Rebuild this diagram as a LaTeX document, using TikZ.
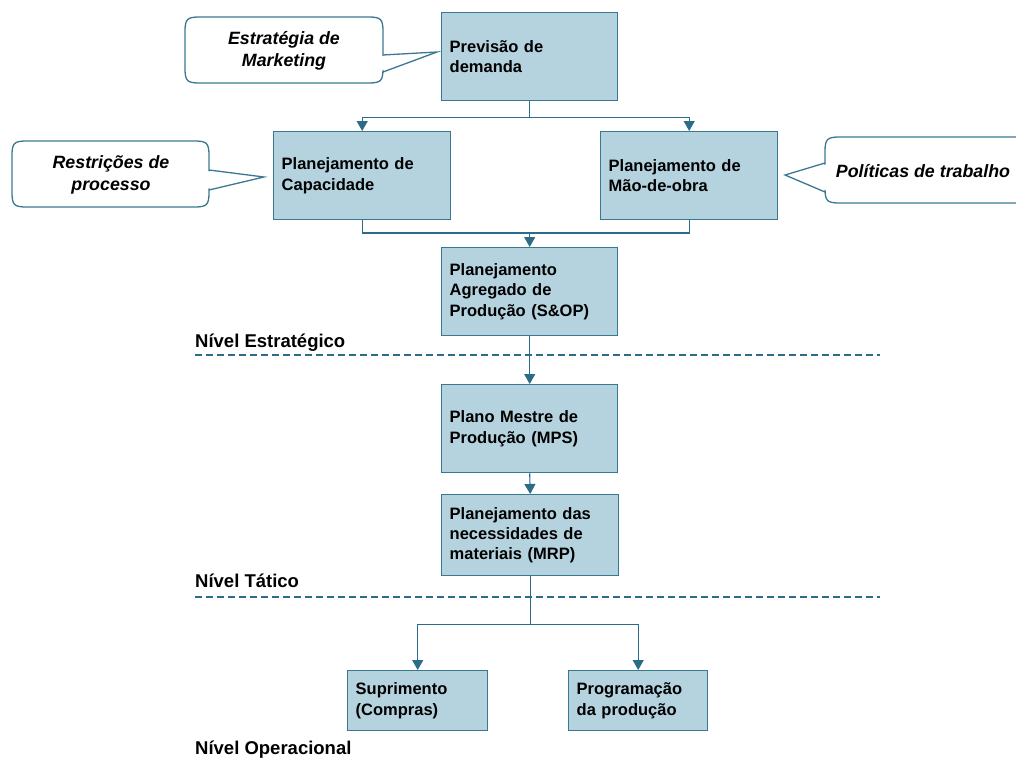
\documentclass[tikz,border=0pt]{standalone}
\usepackage{fontspec}
\setmainfont{Liberation Sans}
\usetikzlibrary{arrows.meta,calc}

\definecolor{boxfill}{HTML}{B4D3DE}
\definecolor{boxline}{HTML}{3A7892}
\definecolor{linkcol}{HTML}{2C6C87}

\tikzset{
  stepbox/.style={draw=boxline, line width=1.4pt, fill=boxfill, inner xsep=8pt, inner ysep=0pt,
    align=left, font=\bfseries\fontsize{16.5}{20.3}\selectfont, anchor=north west},
  link/.style={draw=linkcol, line width=1.1pt},
  arrowlink/.style={link, -{Triangle[width=11pt,length=10pt]}},
  levelline/.style={draw=linkcol, line width=1.8pt, dash pattern=on 7pt off 4pt},
  leveltext/.style={font=\bfseries\fontsize{18.5}{22}\selectfont, anchor=base west, inner sep=0pt},
  callout/.style={draw=boxline, line width=1.3pt, fill=white},
  callouttext/.style={font=\bfseries\itshape\fontsize{17.8}{22}\selectfont, align=center, inner sep=0pt}
}

% rounded speech box: left, top, right, bottom, corner radius
\newcommand\speechbox[5]{%
  \path[callout] (#1,#2+#5) .. controls (#1,#2+2) and (#1+2,#2) .. (#1+#5,#2)
    -- (#3-#5,#2) .. controls (#3-2,#2) and (#3,#2+2) .. (#3,#2+#5)
    -- (#3,#4-#5) .. controls (#3,#4-2) and (#3-2,#4) .. (#3-#5,#4)
    -- (#1+#5,#4) .. controls (#1+2,#4) and (#1,#4-2) .. (#1,#4-#5) -- cycle;}

\begin{document}
\begin{tikzpicture}[x=1pt,y=-1pt]
\useasboundingbox (0,0) rectangle (1016,760);

% ---- boxes ----
\node[stepbox, text width=160pt, minimum height=88pt] (prev) at (441,12) {Previsão de\\demanda};
\node[stepbox, text width=161pt, minimum height=88pt] (cap) at (273,131) {Planejamento de\\Capacidade};
\node[stepbox, text width=161pt, minimum height=88pt] (mao) at (600,131) {Planejamento de\\Mão-de-obra};
\node[stepbox, text width=160pt, minimum height=88pt] (sop) at (441,247) {Planejamento\\Agregado de\\Produção (S\&OP)};
\node[stepbox, text width=160pt, minimum height=88pt] (mps) at (441,384) {Plano Mestre de\\Produção (MPS)};
\node[stepbox, text width=161pt, minimum height=81pt] (mrp) at (441,494) {Planejamento das\\necessidades de\\materiais (MRP)};
\node[stepbox, text width=124pt, minimum height=60pt] (sup) at (347,670) {Suprimento\\(Compras)};
\node[stepbox, text width=123pt, minimum height=60pt] (prog) at (568,670) {Programação\\da produção};

% ---- connectors ----
\coordinate (j1) at ($(prev.south)+(0,16)$);
\draw[link] (prev.south) -- (j1);
\draw[arrowlink] (j1) -| (cap.north);
\draw[arrowlink] (j1) -| (mao.north);

\coordinate (j2) at ($(sop.north)+(0,-14)$);
\draw[link] (cap.south) |- (j2) -| (mao.south);
\draw[arrowlink] (j2) -- (sop.north);

\draw[arrowlink] (sop.south) -- (mps.north);
\draw[arrowlink] (mps.south) -- (mrp.north);

\coordinate (j3) at ($(mrp.south)+(0,48)$);
\draw[link] (mrp.south) -- (j3);
\draw[arrowlink] (j3) -| (sup.north);
\draw[arrowlink] (j3) -| (prog.north);

% ---- planning levels ----
\coordinate (l1a) at (195,355); \coordinate (l1b) at (880,355);
\coordinate (l2a) at (195,597); \coordinate (l2b) at (880,597);
\draw[levelline] (l1a) -- (l1b);
\draw[levelline] (l2a) -- (l2b);
\node[leveltext] (lv1) at (195,347) {Nível Estratégico};
\node[leveltext] (lv2) at (195,587) {Nível Tático};
\node[leveltext] (lv3) at (195,754) {Nível Operacional};

% ---- speech boxes ----
\speechbox{185}{17}{383}{83}{15}
\coordinate (t1) at (437,52);
\fill[white] (380,56) -- (t1) -- (380,71) -- cycle;
\draw[callout, fill=none] (383,55) -- (t1) -- (383,72);
\node[callouttext] (mkt) at (284,51) {Estratégia de\\Marketing};

\speechbox{12}{141}{209}{207}{15}
\coordinate (t2) at (264,177);
\fill[white] (206,171) -- (t2) -- (206,189) -- cycle;
\draw[callout, fill=none] (209,170) -- (t2) -- (209,190);
\node[callouttext] (proc) at (111,175) {Restrições de\\processo};

\speechbox{825}{137}{1030}{203}{15}
\coordinate (t3) at (785,175);
\fill[white] (828,164) -- (t3) -- (828,191) -- cycle;
\draw[callout, fill=none] (825,163) -- (t3) -- (825,192);
\node[callouttext] (trab) at (923,171) {Políticas de trabalho};
\end{tikzpicture}
\end{document}
